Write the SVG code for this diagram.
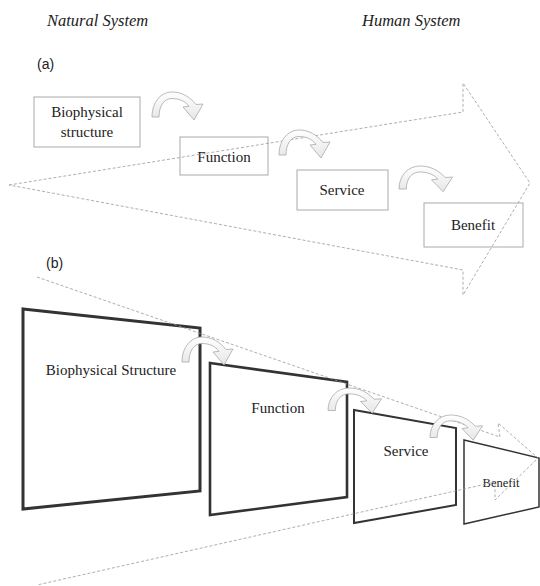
<svg xmlns="http://www.w3.org/2000/svg" xmlns:xlink="http://www.w3.org/1999/xlink" width="540" height="586" viewBox="0 0 540 586">
<style>
.bg{fill:#ffffff}
.title{font-family:'Liberation Serif','Times New Roman','DejaVu Serif',serif;font-style:italic;font-size:16.5px;fill:#222}
.panel{font-family:'Liberation Sans',Arial,sans-serif;font-size:14px;fill:#222}
.lbl{font-family:'Liberation Serif','Times New Roman','DejaVu Serif',serif;font-size:15px;fill:#222;text-anchor:middle}
.box{fill:none;stroke:#aaaaaa;stroke-width:1}
.dash{fill:none;stroke:#999999;stroke-width:0.8;stroke-dasharray:3 2}
.quad{fill:none;stroke:#333333;stroke-linejoin:miter}
.carrow{fill:url(#cg);stroke:#a8a8a8;stroke-width:0.8}
</style>
<defs>
<linearGradient id="cg" x1="0" y1="0" x2="0" y2="1">
<stop offset="0" stop-color="#ffffff"/>
<stop offset="1" stop-color="#e6e6e6"/>
</linearGradient>
<path id="ca" d="M0,25 C0,10 9,0 20,0 C30,0 38,5 44,12.5 L51,12 L42,28 L31,15 L37,14.3 C33,9 27,6.5 20,6.5 C12,6.5 7,14 7,25 Z"/>
</defs>
<rect class="bg" x="0" y="0" width="540" height="586"/>
<text class="title" x="47" y="26">Natural System</text>
<text class="title" x="362" y="26">Human System</text>
<text class="panel" x="37" y="69">(a)</text>
<text class="panel" x="46" y="268">(b)</text>

<g id="a-biophysical">
<rect class="box" x="34" y="97" width="106" height="50"/>
<text class="lbl" x="87" y="117">Biophysical</text>
<text class="lbl" x="87" y="137">structure</text>
</g>
<g id="a-function">
<rect class="box" x="180" y="137" width="88" height="38"/>
<text class="lbl" x="224" y="162">Function</text>
</g>
<g id="a-service">
<rect class="box" x="297" y="170" width="91" height="40"/>
<text class="lbl" x="342" y="195">Service</text>
</g>
<g id="a-benefit">
<rect class="box" x="424" y="203" width="99" height="44"/>
<text class="lbl" x="473" y="230">Benefit</text>
</g>

<g id="b-biophysical">
<polygon class="quad" stroke-width="3" points="23,309 200,328 200,491 23,509"/>
<text class="lbl" x="111" y="375">Biophysical Structure</text>
</g>
<g id="b-function">
<polygon class="quad" stroke-width="2.6" points="210,363 347,382 347,497 210,515"/>
<text class="lbl" x="278" y="413">Function</text>
</g>
<g id="b-service">
<polygon class="quad" stroke-width="2" points="354,410 456,428 456,505 354,523"/>
<text class="lbl" x="406" y="456">Service</text>
</g>
<g id="b-benefit">
<polygon class="quad" stroke-width="1.5" points="464,440 539,458 539,507 464,524"/>
<text class="lbl" x="501" y="487" style="font-size:12.5px">Benefit</text>
</g>

<g id="connectors">
<path class="dash" d="M9,185 L463,112 L463,83 L530,183 L463,295 L463,270 Z"/>
<path class="dash" d="M37,277 L500,437 L498,423 L538,458 L495,500 L495,482 L37,585"/>
<use xlink:href="#ca" class="carrow" transform="translate(152,92)"/>
<use xlink:href="#ca" class="carrow" transform="translate(279,130)"/>
<use xlink:href="#ca" class="carrow" transform="translate(399,166) scale(1.05,0.92)"/>
<use xlink:href="#ca" class="carrow" transform="translate(182,337)"/>
<use xlink:href="#ca" class="carrow" transform="translate(328,388) scale(1.05,0.9)"/>
<use xlink:href="#ca" class="carrow" transform="translate(430,415) scale(1.03,0.9)"/>
</g>
</svg>
